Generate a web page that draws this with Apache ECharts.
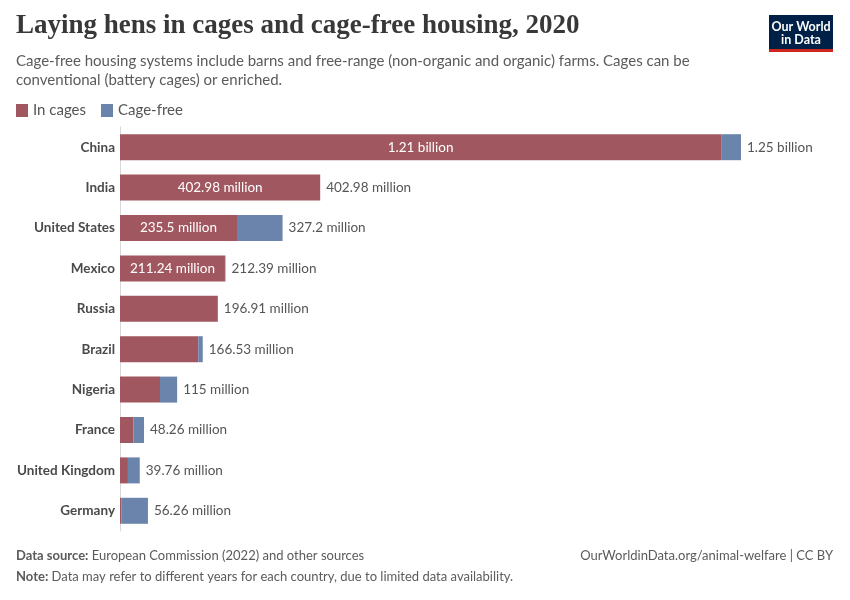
<!DOCTYPE html>
<html><head><meta charset="utf-8">
<script src="https://cdn.jsdelivr.net/npm/echarts@6/dist/echarts.min.js"></script>
<style>html,body{margin:0;padding:0;background:#fff}#c{width:850px;height:600px}</style>
</head><body><div id="c"></div>
<script>
const countries = ['China','India','United States','Mexico','Russia','Brazil','Nigeria','France','United Kingdom','Germany'];
const inCages = [1210, 402.98, 235.5, 211.24, 196.91, 157.5, 80.5, 26.8, 16, 2.5];
const cageFree = [40, 0, 91.7, 1.15, 0, 9.03, 34.5, 21.46, 23.76, 53.76];
const totalLabels = ['1.25 billion','402.98 million','327.2 million','212.39 million','196.91 million','166.53 million','115 million','48.26 million','39.76 million','56.26 million'];
const insideLabels = ['1.21 billion','402.98 million','235.5 million','211.24 million','','','','','',''];
const seriesNames = ['In cages','Cage-free'];
const colors = ['#a0575f','#6b84ac'];

const chart = echarts.init(document.getElementById('c'), null, {renderer:'canvas'});
const F = 'Lato, "Noto Sans", sans-serif';
chart.setOption({
  animation:false,
  color: colors,
  legend:{left:11, top:98, itemWidth:12, itemHeight:13, itemGap:15, icon:'rect',
    textStyle:{fontFamily:F, fontSize:15, color:'#555', padding:[0,0,0,0]},
    data: seriesNames},
  grid:{left:120, top:127, width:695.5, height:404, containLabel:false},
  xAxis:{type:'value', min:0, max:1400, show:false},
  yAxis:{type:'category', data:countries, inverse:true,
    axisLine:{show:true, lineStyle:{color:'#d8d8d8', width:1}},
    axisTick:{show:false},
    axisLabel:{fontFamily:F, fontSize:13.5, fontWeight:'bold', color:'#4a4a4a', margin:5}},
  series:[
    {name:seriesNames[0], type:'bar', stack:'t', barWidth:26, data:inCages,
     itemStyle:{color:colors[0]},
     label:{show:true, position:'inside', color:'#fff', fontFamily:F, fontSize:13.5,
       formatter:p=>insideLabels[p.dataIndex]}},
    {name:seriesNames[1], type:'bar', stack:'t', barWidth:26, data:cageFree,
     itemStyle:{color:colors[1]},
     label:{show:true, position:'right', distance:6, color:'#555', fontFamily:F, fontSize:13.5,
       formatter:p=>totalLabels[p.dataIndex]}}
  ],
  graphic:[
    {type:'text', left:16, top:13, style:{text:'Laying hens in cages and cage-free housing, 2020', fontFamily:'"Liberation Serif", "DejaVu Serif", serif', fontSize:27, fontWeight:'bold', fill:'#383838'}},
    {type:'text', left:16, top:51, style:{text:'Cage-free housing systems include barns and free-range (non-organic and organic) farms. Cages can be\nconventional (battery cages) or enriched.', fontFamily:F, fontSize:15, lineHeight:19.5, fill:'#5b5b5b'}},
    {type:'rect', shape:{x:769, y:15, width:64, height:35}, style:{fill:'#002147'}},
    {type:'rect', shape:{x:769, y:49, width:64, height:3}, style:{fill:'#ce261e'}},
    {type:'text', x:801, y:20, style:{text:'Our World\nin Data', fontFamily:F, fontSize:12.5, lineHeight:13.5, fill:'#fff', align:'center', fontWeight:'bold'}},
    {type:'text', left:16, top:549, style:{rich:{b:{fontWeight:'bold', fontFamily:F, fontSize:13, fill:'#5b5b5b'}, n:{fontFamily:F, fontSize:13, fill:'#5b5b5b'}}, text:'{b|Data source:} {n|European Commission (2022) and other sources}'}},
    {type:'text', left:16, top:570, style:{rich:{b:{fontWeight:'bold', fontFamily:F, fontSize:13, fill:'#5b5b5b'}, n:{fontFamily:F, fontSize:13, fill:'#5b5b5b'}}, text:'{b|Note:} {n|Data may refer to different years for each country, due to limited data availability.}'}},
    {type:'text', right:17, top:549, style:{text:'OurWorldinData.org/animal-welfare | CC BY', fontFamily:F, fontSize:13, fill:'#5b5b5b'}}
  ]
});
</script></body></html>
